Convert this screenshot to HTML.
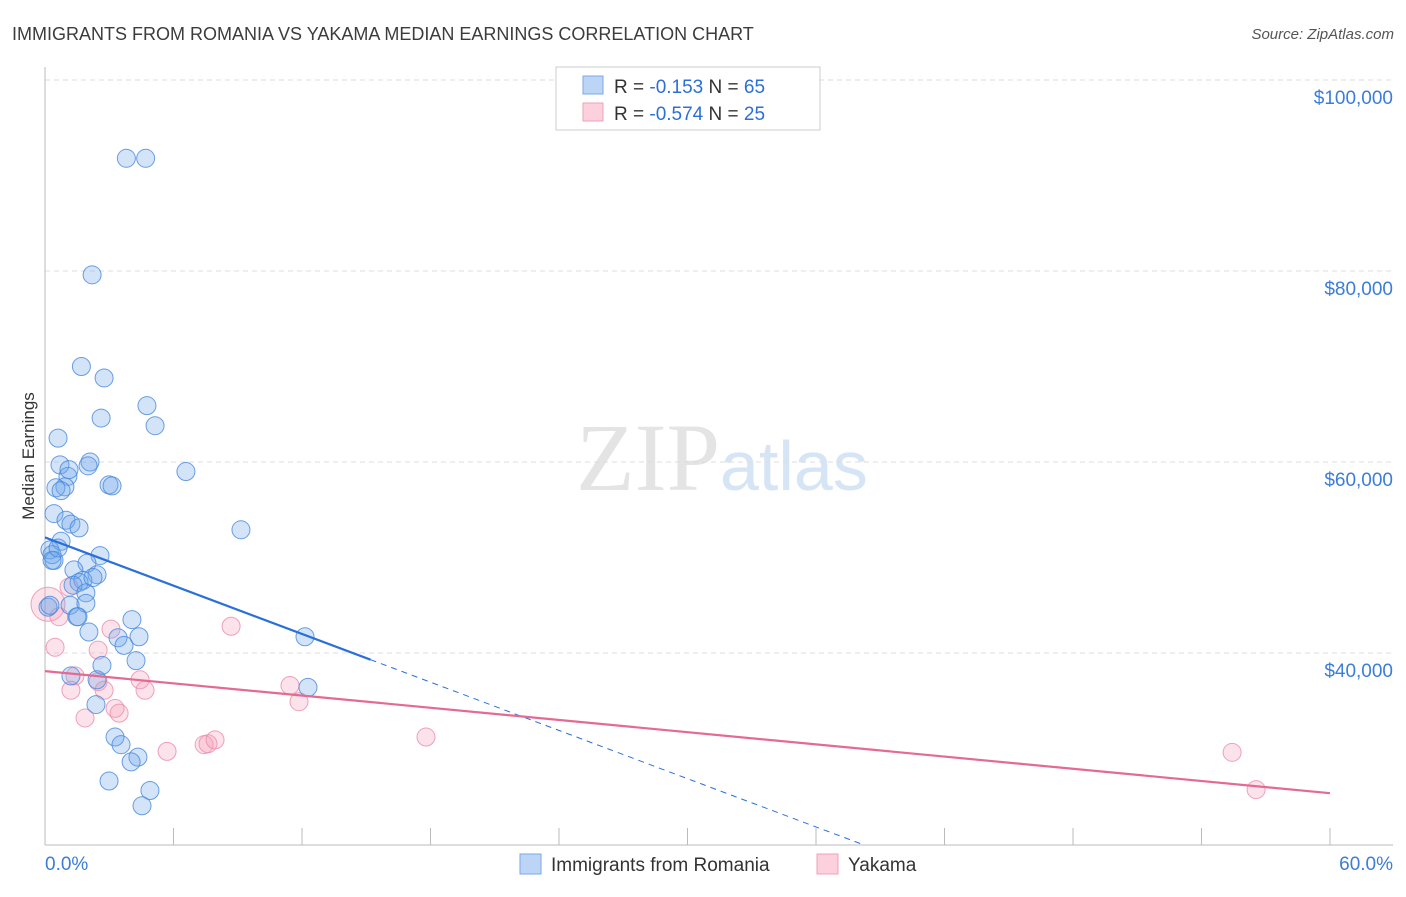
<!DOCTYPE html>
<html><head><meta charset="utf-8"><style>
body{margin:0;background:#fff;font-family:"Liberation Sans",sans-serif}
svg text{font-family:"Liberation Sans",sans-serif}
</style></head><body>
<svg id="c" width="1406" height="892">
<text x="12" y="40" font-size="18" fill="#3c3c3c">IMMIGRANTS FROM ROMANIA VS YAKAMA MEDIAN EARNINGS CORRELATION CHART</text>
<text x="1394" y="39" font-size="15" fill="#555" font-style="italic" text-anchor="end">Source: ZipAtlas.com</text>
<text x="720" y="490" font-size="96" fill="#e4e4e4" text-anchor="end" font-family="Liberation Serif" style="font-family:'Liberation Serif',serif">ZIP</text>
<text x="720" y="490" font-size="70" fill="#d6e5f5">atlas</text>
<text transform="translate(34,456) rotate(-90)" font-size="17" fill="#333" text-anchor="middle">Median Earnings</text>
<g id="grid"></g><g id="axes"></g><g id="pts"></g><g id="trend"></g>
<g>
<rect x="556" y="67" width="264" height="63" fill="#fff" stroke="#ccc"/>
<rect x="583" y="76" width="20" height="18" fill="#bcd4f5" stroke="#7aaae6"/>
<text x="614" y="93" font-size="19" fill="#333">R = <tspan fill="#2c6fd6">-0.153</tspan>   N = <tspan fill="#2c6fd6">65</tspan></text>
<rect x="583" y="103" width="20" height="18" fill="#fcd0dc" stroke="#f0a0b8"/>
<text x="614" y="120" font-size="19" fill="#333">R = <tspan fill="#2c6fd6">-0.574</tspan>   N = <tspan fill="#2c6fd6">25</tspan></text>
</g>
<g>
<rect x="520" y="854" width="21" height="20" fill="#bcd4f5" stroke="#7aaae6"/>
<text x="551" y="871" font-size="19" fill="#333">Immigrants from Romania</text>
<rect x="817" y="854" width="21" height="20" fill="#fcd0dc" stroke="#f0a0b8"/>
<text x="848" y="871" font-size="19" fill="#333">Yakama</text>
</g>
</svg>
<script>
const yTicks=[40000,60000,80000,100000];
const yTickLabels=["$40,000","$60,000","$80,000","$100,000"];
const xTickLabels=["0.0%","60.0%"];
const blueX=[3.8,4.7,2.2,1.7,2.76,4.76,2.62,5.14,0.61,0.7,2.1,6.58,1.07,0.93,0.51,0.75,2.99,3.13,9.15,0.42,0.98,1.21,1.59,0.75,0.23,0.33,0.42,2.57,1.96,1.35,2.43,1.77,1.59,2.24,1.31,1.91,1.17,1.91,1.49,1.54,2.05,4.06,3.41,4.39,3.69,12.14,2.66,4.25,1.21,2.43,2.38,3.27,3.55,4.34,4.02,12.28,2.99,4.9,4.53,0.14,0.33,0.61,2.01,1.12,0.23];
const blueY=[91800,91800,79600,70000,68800,65900,64600,63800,62500,59700,60000,59000,58500,57400,57300,57000,57600,57500,52900,54600,53900,53500,53100,51700,50800,50300,49700,50200,49400,48700,48200,47600,47400,47900,47100,46300,45000,45200,43800,43800,42200,43500,41600,41700,40800,41700,38700,39200,37600,37200,34600,31200,30400,29100,28600,36400,26600,25600,24000,44800,49700,51000,59600,59200,45000];
const pinkX=[1.12,0.14,0.65,0.47,1.4,1.21,1.87,2.48,3.08,2.48,2.76,3.27,3.46,4.44,4.67,5.7,7.43,7.61,7.94,8.69,11.44,11.86,17.79,55.43,56.55];
const pinkY=[46900,45100,43800,40600,37600,36100,33200,40300,42500,37000,36100,34200,33700,37200,36100,29700,30400,30500,30900,42800,36600,34900,31200,29600,25700];
const blueTrend=[52100,-842]; // intercept, slope per %
const pinkTrend=[38100,-213];
const X=v=>45+v/60*1285;
const Y=v=>653-(v-40000)/20000*191;
const NS="http://www.w3.org/2000/svg";
function mk(p,t,a){const e=document.createElementNS(NS,t);for(const k in a)e.setAttribute(k,a[k]);document.getElementById(p).appendChild(e);return e;}
yTicks.forEach((t,i)=>{
 const l=mk('grid','line',{x1:45,x2:1393,y1:Y(t),y2:Y(t),stroke:'#ddd','stroke-dasharray':'5,4'});
 
 
 const tx=mk('grid','text',{x:1393,y:Y(t)+24,'font-size':19,fill:'#3b7dd8','text-anchor':'end'});
 tx.textContent=yTickLabels[i];
 
 
});
const ax=mk('axes','line',{x1:45,x2:45,y1:67,y2:845,stroke:'#bbb'});


const bx=mk('axes','line',{x1:45,x2:1393,y1:845,y2:845,stroke:'#bbb'});


for(let i=0;i<=10;i++){
 const t=mk('axes','line',{x1:X(i*6),x2:X(i*6),y1:828,y2:845,stroke:'#bbb'});
 
 
}
[[0,'start',45],[60,'end',1393]].forEach((d,i)=>{
 const t=mk('axes','text',{x:d[2],y:870,'font-size':19,fill:'#3b7dd8','text-anchor':d[1]});
 t.textContent=xTickLabels[i];
 
 
});
pinkX.forEach((v,i)=>{
 const c=mk('pts','circle',{cx:X(v),cy:Y(pinkY[i]),r:i==1?17:9,fill:'rgba(245,160,185,0.3)',stroke:'rgba(235,140,170,0.8)'});
 
 
});
blueX.forEach((v,i)=>{
 const c=mk('pts','circle',{cx:X(v),cy:Y(blueY[i]),r:9,fill:'rgba(110,165,235,0.3)',stroke:'rgba(70,135,220,0.8)'});
 
 
});
const bt=v=>blueTrend[0]+blueTrend[1]*v;
const l1=mk('trend','line',{x1:X(0),y1:Y(bt(0)),x2:X(15.2),y2:Y(bt(15.2)),stroke:'#2a70d8','stroke-width':2.2});


const xe=(19900-blueTrend[0])/blueTrend[1];
const l2=mk('trend','line',{x1:X(15.2),y1:Y(bt(15.2)),x2:X(xe),y2:Y(bt(xe)),stroke:'#2a70d8','stroke-width':1,'stroke-dasharray':'6,5'});


const pt=v=>pinkTrend[0]+pinkTrend[1]*v;
const l3=mk('trend','line',{x1:X(0),y1:Y(pt(0)),x2:X(60),y2:Y(pt(60)),stroke:'#e46a92','stroke-width':2.2});


</script>
</body></html>
